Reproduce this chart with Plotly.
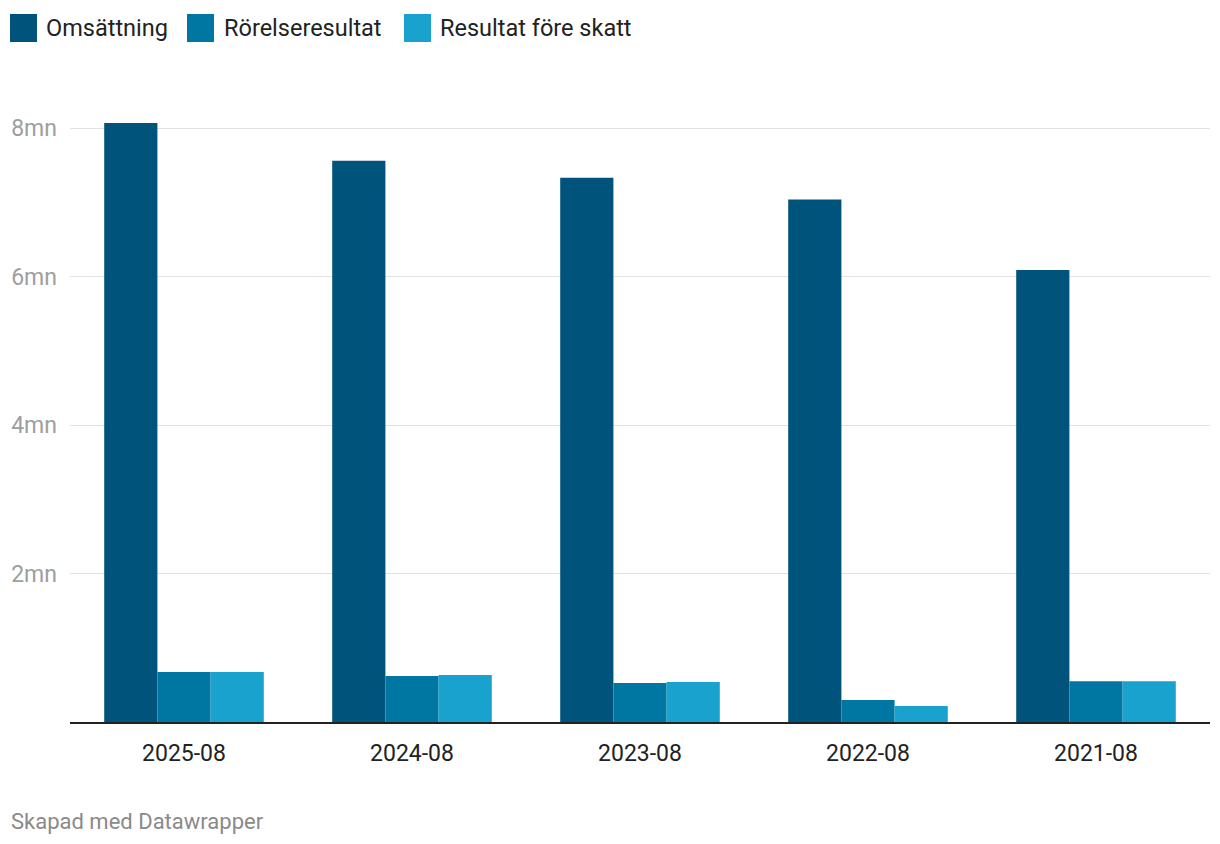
import plotly.graph_objects as go

categories = ["2025-08", "2024-08", "2023-08", "2022-08", "2021-08"]
omsattning = [8.07, 7.56, 7.33, 7.04, 6.09]
rorelseresultat = [0.673, 0.62, 0.525, 0.296, 0.55]
resultat_fore_skatt = [0.673, 0.633, 0.54, 0.215, 0.55]
series_names = ["Omsättning", "Rörelseresultat", "Resultat före skatt"]
colors = ["#00537a", "#0077a3", "#19a2cd"]
y_tickvals = [2, 4, 6, 8]
y_ticktext = ["2mn", "4mn", "6mn", "8mn"]

W, H = 1220, 844
L, R, T, B = 70, 10, 91, 122
pw, ph = W - L - R, H - T - B

def px(x):
    return (x - L) / pw

def py(y):
    return (H - B - y) / ph

fig = go.Figure()
for name, vals, col in zip(series_names, [omsattning, rorelseresultat, resultat_fore_skatt], colors):
    fig.add_trace(go.Bar(x=categories, y=vals, name=name, marker=dict(color=col, line=dict(width=0)),
                         hovertemplate="%{x}: %{y}mn<extra>" + name + "</extra>"))

# custom legend
legend_items = [(10, 44), (187, 222), (404, 438)]
shapes = []
annotations = []
for (sx, tx), name, col in zip(legend_items, series_names, colors):
    shapes.append(dict(type="rect", xref="paper", yref="paper", x0=px(sx), x1=px(sx + 27),
                       y0=py(42), y1=py(14), fillcolor=col, line=dict(width=0), layer="above"))
    annotations.append(dict(text=name, xref="paper", yref="paper", x=px(tx), y=py(28),
                            xanchor="left", yanchor="middle", showarrow=False,
                            font=dict(size=23.5, color="#222222", family="Roboto")))

annotations.append(dict(text="Skapad med Datawrapper", xref="paper", yref="paper", x=px(9), y=py(821),
                        xanchor="left", yanchor="middle", showarrow=False,
                        font=dict(size=22, color="#8a8a8a", family="Roboto")))

fig.update_layout(
    width=W, height=H,
    margin=dict(l=L, r=R, t=T, b=B),
    paper_bgcolor="white", plot_bgcolor="white",
    barmode="group", bargap=0.3, bargroupgap=0,
    showlegend=False,
    font=dict(family="Roboto", size=22, color="#222222"),
    shapes=shapes, annotations=annotations,
    xaxis=dict(type="category", showline=True, linecolor="#222222", linewidth=2, showgrid=False,
               tickfont=dict(size=23, color="#222222"), ticks="", ticklabelstandoff=9),
    yaxis=dict(range=[0, 8.5], tickvals=y_tickvals, ticktext=y_ticktext, showgrid=True,
               gridcolor="#e2e2e2", gridwidth=1, zeroline=False, showline=False,
               tickfont=dict(size=23, color="#9e9e9e"), ticks="", ticklabelstandoff=12),
)

fig.write_html("out.html", config={"displayModeBar": False},
               post_script="document.body.style.margin='0';")
